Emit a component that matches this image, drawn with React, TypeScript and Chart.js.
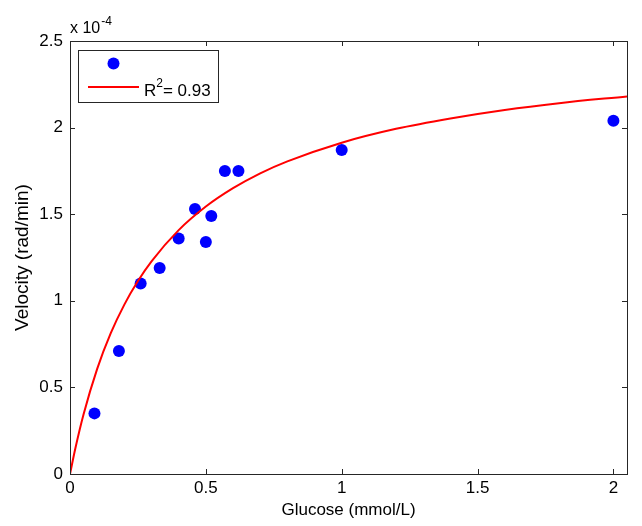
import React, { useEffect, useRef } from 'react';
import { Chart, registerables } from 'chart.js';

Chart.register(...registerables);

// Measured data (velocity in units of 1e-4 rad/min)
const glucose = [0.09, 0.18, 0.26, 0.33, 0.40, 0.46, 0.50, 0.52, 0.57, 0.62, 1.0, 2.0];
const velocity = [0.35, 0.71, 1.10, 1.19, 1.36, 1.53, 1.34, 1.49, 1.75, 1.75, 1.87, 2.04];

// Fitted curve
const fitGlucose = [0, 0.02, 0.05, 0.1, 0.15, 0.2, 0.25, 0.3, 0.4, 0.5, 0.6, 0.7, 0.8, 1.0, 1.2, 1.4, 1.6, 1.8, 2.05];
const fitVelocity = [0, 0.15, 0.345, 0.607, 0.813, 0.978, 1.114, 1.228, 1.408, 1.544, 1.65, 1.736, 1.805, 1.913, 1.993, 2.053, 2.102, 2.141, 2.18];

const xTicks = [0, 0.5, 1, 1.5, 2];
const yTicks = [0, 0.5, 1, 1.5, 2, 2.5];

const xTitle = 'Glucose (mmol/L)';
const yTitle = 'Velocity (rad/min)';
const exponentBase = 'x 10';
const exponentPower = '-4';
const legendMain = 'R';
const legendSup = '2';
const legendRest = '= 0.93';

const FONT = '"Liberation Sans", Arial, Helvetica, sans-serif';

const framePlugin = {
  id: 'matlabFrame',
  afterDraw(chart: any) {
    const { ctx, chartArea, scales } = chart;
    const { left, right, top, bottom } = chartArea;
    ctx.save();
    ctx.strokeStyle = '#262626';
    ctx.lineWidth = 1;
    ctx.strokeRect(Math.round(left) + 0.5, Math.round(top) + 0.5, Math.round(right - left), Math.round(bottom - top));
    const tl = 5;
    ctx.beginPath();
    xTicks.forEach((t) => {
      const px = Math.round(scales.x.getPixelForValue(t)) + 0.5;
      ctx.moveTo(px, bottom);
      ctx.lineTo(px, bottom - tl);
      ctx.moveTo(px, top);
      ctx.lineTo(px, top + tl);
    });
    yTicks.forEach((t) => {
      const py = Math.round(scales.y.getPixelForValue(t)) + 0.5;
      ctx.moveTo(left, py);
      ctx.lineTo(left + tl, py);
      ctx.moveTo(right, py);
      ctx.lineTo(right - tl, py);
    });
    ctx.stroke();

    // exponent label
    ctx.fillStyle = '#000';
    ctx.textBaseline = 'alphabetic';
    ctx.textAlign = 'left';
    ctx.font = `16px ${FONT}`;
    ctx.fillText(exponentBase, left, top - 8);
    const w = ctx.measureText(exponentBase).width;
    ctx.font = `12px ${FONT}`;
    ctx.fillText(exponentPower, left + w + 1, top - 16);

    // legend
    const lx = left + 8, ly = top + 9, lw = 140, lh = 52;
    ctx.fillStyle = '#fff';
    ctx.fillRect(lx, ly, lw, lh);
    ctx.strokeStyle = '#262626';
    ctx.lineWidth = 1;
    ctx.strokeRect(Math.round(lx) + 0.5, Math.round(ly) + 0.5, lw, lh);
    ctx.fillStyle = '#0000ff';
    ctx.beginPath();
    ctx.arc(lx + 35.5, ly + 13.5, 6, 0, Math.PI * 2);
    ctx.fill();
    ctx.strokeStyle = '#ff0000';
    ctx.lineWidth = 2;
    ctx.beginPath();
    ctx.moveTo(lx + 10, ly + 37);
    ctx.lineTo(lx + 61, ly + 37);
    ctx.stroke();
    ctx.fillStyle = '#000';
    ctx.font = `17px ${FONT}`;
    let tx = lx + 66;
    const by = ly + 46;
    ctx.fillText(legendMain, tx, by);
    tx += ctx.measureText(legendMain).width;
    ctx.font = `12px ${FONT}`;
    ctx.fillText(legendSup, tx, by - 9);
    tx += ctx.measureText(legendSup).width;
    ctx.font = `17px ${FONT}`;
    ctx.fillText(legendRest, tx, by);
    ctx.restore();
  },
};

export default function App() {
  const ref = useRef<HTMLCanvasElement | null>(null);
  useEffect(() => {
    if (!ref.current) return;
    const chart = new Chart(ref.current, {
      type: 'scatter',
      data: {
        datasets: [
          {
            label: 'fit',
            data: fitGlucose.map((x, i) => ({ x, y: fitVelocity[i] })),
            showLine: true,
            borderColor: '#ff0000',
            borderWidth: 2,
            pointRadius: 0,
            cubicInterpolationMode: 'monotone',
            order: 0,
          } as any,
          {
            label: 'data',
            data: glucose.map((x, i) => ({ x, y: velocity[i] })),
            showLine: false,
            backgroundColor: '#0000ff',
            borderColor: '#0000ff',
            pointRadius: 6,
            pointBorderWidth: 0,
            order: 1,
          },
        ],
      },
      options: {
        responsive: false,
        animation: false,
        devicePixelRatio: 1,
        layout: { padding: { left: 0, top: 41, right: 15, bottom: 0 } },
        plugins: { legend: { display: false }, tooltip: { enabled: false } },
        scales: {
          x: {
            type: 'linear',
            min: 0,
            max: 2.05,
            afterBuildTicks: (s: any) => { s.ticks = xTicks.map((v) => ({ value: v })); },
            afterFit: (s: any) => { s.height = 52; },
            grid: { display: false, drawTicks: false },
            border: { display: false },
            ticks: {
              color: '#000',
              padding: 4,
              font: { family: FONT, size: 17 },
              callback: (v: any) => String(v),
            },
            title: {
              display: true,
              text: xTitle,
              color: '#000',
              font: { family: FONT, size: 17 },
              padding: { top: 5, bottom: 5 },
            },
          },
          y: {
            type: 'linear',
            min: 0,
            max: 2.5,
            afterBuildTicks: (s: any) => { s.ticks = yTicks.map((v) => ({ value: v })); },
            afterFit: (s: any) => { s.width = 70; },
            grid: { display: false, drawTicks: false },
            border: { display: false },
            ticks: {
              color: '#000',
              padding: 7,
              font: { family: FONT, size: 17 },
              callback: (v: any) => String(v),
            },
            title: {
              display: true,
              text: yTitle,
              color: '#000',
              font: { family: FONT, size: 19 },
              padding: { top: 11, bottom: 11 },
            },
          },
        },
      },
      plugins: [framePlugin],
    });
    return () => chart.destroy();
  }, []);
  return (
    <div style={{ position: 'fixed', left: 0, top: 0, width: 642, height: 526, background: '#fff' }}>
      <canvas ref={ref} width={642} height={526} style={{ width: 642, height: 526 }} />
    </div>
  );
}
